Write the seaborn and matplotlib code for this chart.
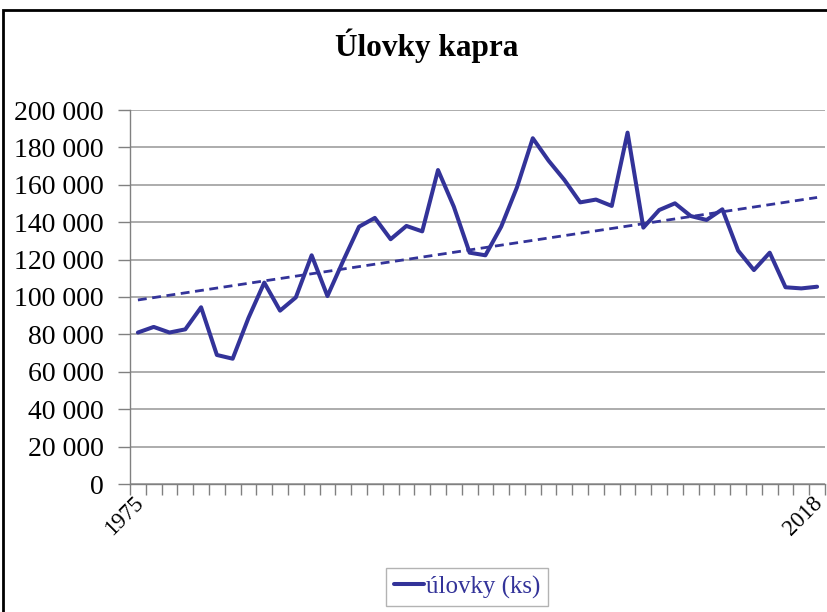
import seaborn as sns
import pandas as pd
import numpy as np
import matplotlib.pyplot as plt
from matplotlib.patches import Rectangle
from matplotlib.ticker import FuncFormatter, FixedLocator
from matplotlib.transforms import ScaledTranslation

# data (ks per year)
roky = list(range(1975, 2019))
ulovky = [81000, 84000, 81000, 82700, 94500, 69000, 67000, 88800, 107700, 92700,
          99800, 122300, 100500, 119400, 137600, 142300, 130900, 138000, 135100, 167900,
          148300, 123700, 122300, 137600, 158700, 184900, 172900, 162600, 150600, 152100,
          148700, 187900, 137100, 146500, 150100, 143300, 141200, 146900, 124800, 114400,
          123700, 105200, 104600, 105500]
tick_labels = ["1975", "2018"]

df = pd.DataFrame({"rok": roky, "ulovky": ulovky})
df["i"] = np.arange(len(df))

# linear trend like the excel trendline
k, q = np.polyfit(df["i"], df["ulovky"], 1)
df["trend"] = k * df["i"] + q

sns.set_style("white")
plt.rcParams["font.family"] = ["Liberation Serif", "DejaVu Serif"]
plt.rcParams["text.color"] = "black"
plt.rcParams["xtick.labelcolor"] = "black"
plt.rcParams["ytick.labelcolor"] = "black"

modra = "#333399"
fig = plt.figure(figsize=(8.27, 6.12), dpi=100)
ax = fig.add_axes([130/827, 1-484/612, 695/827, 374/612])

ax.grid(axis="y", color="#a6a6a6", lw=1.3, zorder=0)
sns.lineplot(data=df, x="i", y="ulovky", ax=ax, color=modra, lw=2.9, label="úlovky (ks)", zorder=3)
sns.lineplot(data=df, x="i", y="trend", ax=ax, color=modra, lw=2.0, zorder=3,
             linestyle=(0, (3.2, 2.0)), legend=False)

ax.set_xlim(-0.5, len(df) - 0.5)
ax.set_ylim(0, 200000)
ax.set_yticks(np.arange(0, 200001, 20000))
ax.yaxis.set_major_formatter(FuncFormatter(lambda v, p: f"{int(v):,}".replace(",", " ")))
ax.tick_params(axis="y", labelsize=20, length=9, width=1, color="#808080", pad=10, direction="out", left=True)

ax.set_xticks([0, len(df) - 1])
ax.set_xticklabels(tick_labels, rotation=45, ha="right", rotation_mode="anchor", fontsize=16.5)
ax.xaxis.set_minor_locator(FixedLocator(np.arange(-0.5, len(df), 1)))
ax.tick_params(axis="x", which="major", length=0, pad=6)
ax.tick_params(axis="x", which="minor", length=8, width=1, color="#808080", direction="out", bottom=True)
posun = ScaledTranslation(-5/100, 0, fig.dpi_scale_trans)
for t in ax.get_xticklabels():
    t.set_transform(t.get_transform() + posun)

for s in ["top", "right"]:
    ax.spines[s].set_visible(False)
for s in ["left", "bottom"]:
    ax.spines[s].set_color("#808080")
    ax.spines[s].set_linewidth(1)
ax.set_xlabel("")
ax.set_ylabel("")

leg = ax.legend(loc="center", bbox_to_anchor=(467/827, 1-587/612), bbox_transform=fig.transFigure,
                fontsize=18, frameon=True, fancybox=False, handlelength=1.2, handletextpad=0.1,
                borderpad=0.3, edgecolor="#a0a0a0")
for t in leg.get_texts():
    t.set_color(modra)

fig.text(427/827, 1-46/612, "Úlovky kapra", ha="center", va="center", fontsize=22.5,
         fontweight="bold", color="black")

# outer frame of the chart area (cut off right and bottom)
fig.patches.append(Rectangle((3/827, -0.2), 1.2, 1.2 - 10/612, transform=fig.transFigure,
                             fill=False, edgecolor="black", lw=2))

fig.savefig("out.png", dpi=100)
